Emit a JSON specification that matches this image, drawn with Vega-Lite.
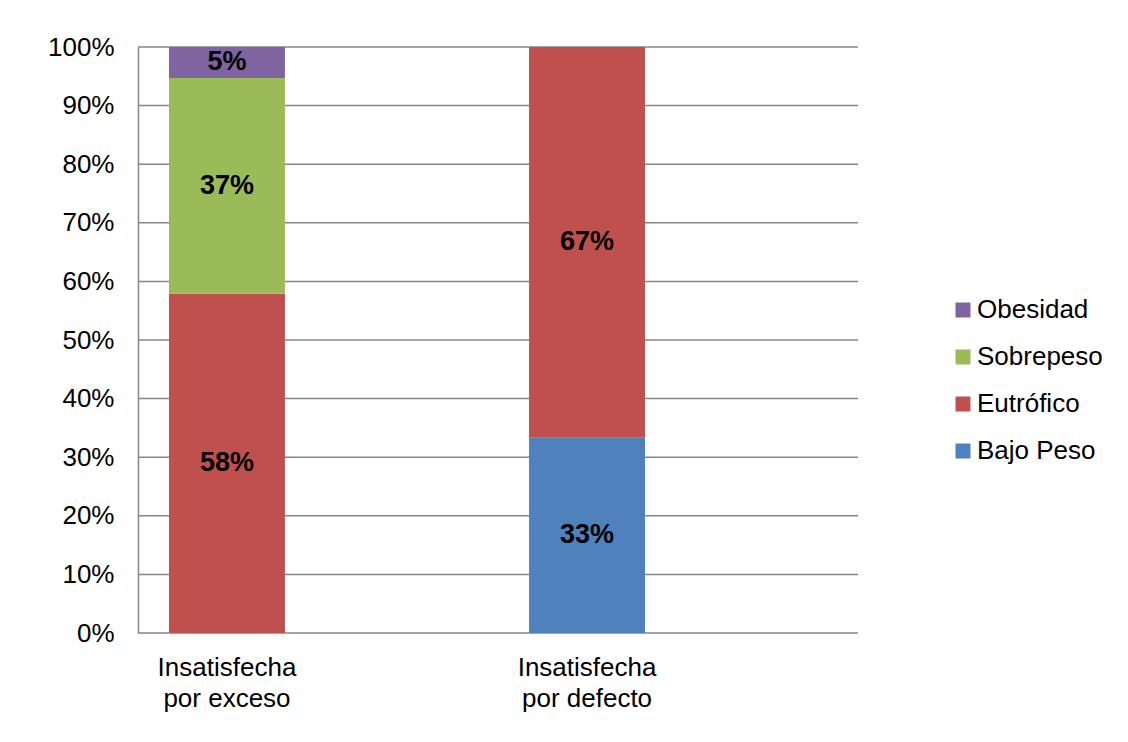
{
  "$schema": "https://vega.github.io/schema/vega-lite/v6.json",
  "width": 720,
  "height": 586,
  "autosize": {"type": "none"},
  "padding": {"left": 138, "top": 47, "right": 270, "bottom": 109},
  "background": "white",
  "config": {
    "font": "Liberation Sans",
    "view": {"stroke": null}
  },
  "datasets": {
    "estados": [
      {"grupo": "Insatisfecha por exceso", "estado": "Eutrófico", "orden": 2, "valor": 0.5789},
      {"grupo": "Insatisfecha por exceso", "estado": "Sobrepeso", "orden": 3, "valor": 0.3684},
      {"grupo": "Insatisfecha por exceso", "estado": "Obesidad", "orden": 4, "valor": 0.0526},
      {"grupo": "Insatisfecha por defecto", "estado": "Bajo Peso", "orden": 1, "valor": 0.3333},
      {"grupo": "Insatisfecha por defecto", "estado": "Eutrófico", "orden": 2, "valor": 0.6667}
    ],
    "lineas": [
      {"t": 0}, {"t": 0.1}, {"t": 0.2}, {"t": 0.3}, {"t": 0.4}, {"t": 0.5},
      {"t": 0.6}, {"t": 0.7}, {"t": 0.8}, {"t": 0.9}, {"t": 1}
    ]
  },
  "layer": [
    {
      "data": {"name": "lineas"},
      "mark": {"type": "rule", "color": "#868686", "strokeWidth": 1.5},
      "encoding": {
        "y": {"field": "t", "type": "quantitative", "scale": {"domain": [0, 1], "nice": false}}
      }
    },
    {
      "data": {"name": "estados"},
      "transform": [
        {"stack": "valor", "groupby": ["grupo"], "sort": [{"field": "orden", "order": "ascending"}], "as": ["v0", "v1"]}
      ],
      "mark": {"type": "bar"},
      "encoding": {
        "x": {
          "field": "grupo",
          "type": "nominal",
          "sort": ["Insatisfecha por exceso", "Insatisfecha por defecto"],
          "title": null,
          "scale": {"range": [0, 538], "paddingInner": 0.678, "paddingOuter": 0.0861},
          "axis": {
            "domain": false,
            "ticks": false,
            "labelAngle": 0,
            "labelFontSize": 26,
            "labelColor": "#000000",
            "labelPadding": 21,
            "labelLineHeight": 31,
            "labelBaseline": "top",
            "labelExpr": "[slice(datum.label, 0, 12), slice(datum.label, 13)]"
          }
        },
        "y": {
          "field": "v1",
          "type": "quantitative",
          "title": null,
          "scale": {"domain": [0, 1], "nice": false},
          "axis": {
            "values": [0, 0.1, 0.2, 0.3, 0.4, 0.5, 0.6, 0.7, 0.8, 0.9, 1],
            "format": ".0%",
            "ticks": false,
            "grid": false,
            "labelPadding": 24,
            "labelFontSize": 26,
            "labelColor": "#000000",
            "domainColor": "#868686",
            "domainWidth": 1.5
          }
        },
        "y2": {"field": "v0"},
        "color": {
          "field": "estado",
          "type": "nominal",
          "scale": {
            "domain": ["Obesidad", "Sobrepeso", "Eutrófico", "Bajo Peso"],
            "range": ["#8064A2", "#9BBB59", "#C0504D", "#4F81BD"]
          },
          "legend": {
            "title": null,
            "orient": "none",
            "legendX": 812,
            "legendY": 250,
            "padding": 0,
            "symbolType": "square",
            "symbolSize": 225,
            "symbolStrokeWidth": 0,
            "labelFontSize": 26,
            "labelColor": "#000000",
            "labelOffset": 1,
            "rowPadding": 21
          }
        }
      }
    },
    {
      "data": {"name": "estados"},
      "transform": [
        {"stack": "valor", "groupby": ["grupo"], "sort": [{"field": "orden", "order": "ascending"}], "as": ["v0", "v1"]},
        {"calculate": "(datum.v0 + datum.v1) / 2", "as": "centro"}
      ],
      "mark": {"type": "text", "fontSize": 27, "fontWeight": "bold", "color": "#000000", "baseline": "middle"},
      "encoding": {
        "x": {"field": "grupo", "type": "nominal", "sort": ["Insatisfecha por exceso", "Insatisfecha por defecto"]},
        "y": {"field": "centro", "type": "quantitative"},
        "text": {"field": "valor", "type": "quantitative", "format": ".0%"}
      }
    }
  ]
}
